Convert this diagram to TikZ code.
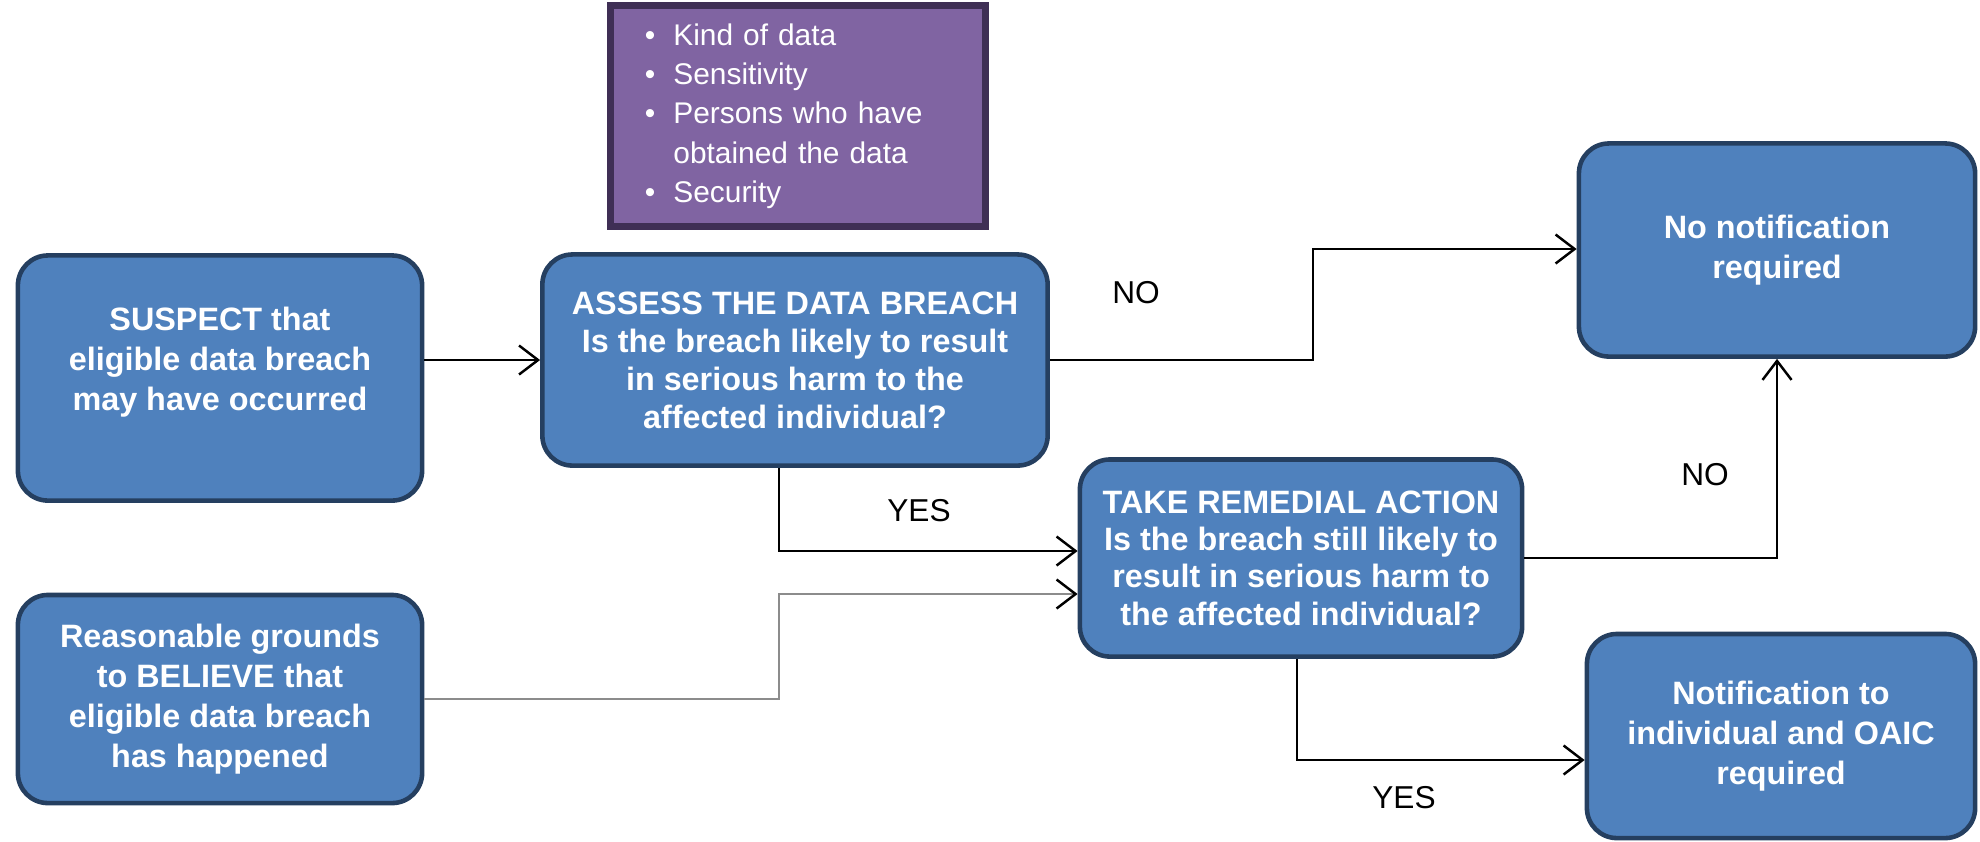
\documentclass[tikz,border=0pt]{standalone}
\usepackage{fontspec}
\setmainfont{Liberation Sans}
\usetikzlibrary{arrows.meta}
\definecolor{stepBlue}{RGB}{79,129,189}
\definecolor{stepEdge}{RGB}{37,63,96}
\definecolor{factorPurple}{RGB}{128,100,162}
\definecolor{factorEdge}{RGB}{63,47,85}
\tikzset{
  stepbox/.style={rectangle, rounded corners=0.3cm, draw=stepEdge, line width=1.3pt, fill=stepBlue, text=white, align=center, font=\fontsize{9.2}{11.4}\selectfont\bfseries},
  flow/.style={-{Straight Barb[length=1.9mm,width=2.9mm,color=black]}, line width=0.7pt},
  answer/.style={font=\fontsize{9}{11}\selectfont}
}

\begin{document}
\begin{tikzpicture}[x=0.01cm, y=-0.01cm]
    \useasboundingbox (0,0) rectangle (1980,841);
    % what to weigh up
    \node[rectangle, draw=factorEdge, line width=2pt, fill=factorPurple, text=white, minimum height=2.12cm, text width=3.06cm, inner xsep=0.34cm, align=left, font=\fontsize{8.5}{11.2}\selectfont] (factors) at (798,116)
      {\begin{tabular}{@{}l@{\hspace{0.18cm}}l@{}}
        \textbullet & Kind of data\\
        \textbullet & Sensitivity\\
        \textbullet & Persons who have\\
                    & obtained the data\\
        \textbullet & Security
      \end{tabular}};

    % steps
    \node[stepbox, minimum width=4.04cm, minimum height=2.45cm] (suspect) at (220,378) {SUSPECT that\\eligible data breach\\may have occurred\\[-0.02cm]\mbox{}};
    \node[stepbox, minimum width=4.04cm, minimum height=2.08cm] (believe) at (220,699) {Reasonable grounds\\to BELIEVE that\\eligible data breach\\has happened};
    \node[stepbox, minimum width=5.05cm, minimum height=2.11cm, font=\fontsize{9.2}{10.8}\selectfont\bfseries] (assess) at (795,360) {ASSESS THE DATA BREACH\\Is the breach likely to result\\in serious harm to the\\affected individual?};
    \node[stepbox, minimum width=4.42cm, minimum height=1.97cm, font=\fontsize{9.2}{10.6}\selectfont\bfseries] (remedial) at (1301,558) {TAKE REMEDIAL ACTION\\Is the breach still likely to\\result in serious harm to\\the affected individual?};
    \node[stepbox, minimum width=3.96cm, minimum height=2.13cm] (nonotify) at (1777,250) {No notification\\required};
    \node[stepbox, minimum width=3.88cm, minimum height=2.04cm] (notify) at (1781,736) {Notification to\\individual and OAIC\\required};

    % bends
    \coordinate (noA) at (1313,249);
    \coordinate (yesA) at (779,551);
    \coordinate (belA) at (779,594);
    \coordinate (yesB) at (1297,760);

    \draw[flow] (suspect.east |- assess.west) -- (assess.west);
    \draw[flow] (assess.east) -| (noA) -- (nonotify.west |- noA);
    \draw[flow] (assess.south -| yesA) -- (yesA) -- (remedial.west |- yesA);
    \draw[flow, draw=black!45] (believe.east) -| (belA) -- (remedial.west |- belA);
    \draw[flow] (remedial.east) -| (nonotify.south);
    \draw[flow] (remedial.south -| yesB) -- (yesB) -- (notify.west |- yesB);

    \node[answer] (noupper) at (1136,293) {NO};
    \node[answer] (yesupper) at (919,511) {YES};
    \node[answer] (nolower) at (1705,475) {NO};
    \node[answer] (yeslower) at (1404,798) {YES};
\end{tikzpicture}
\end{document}
